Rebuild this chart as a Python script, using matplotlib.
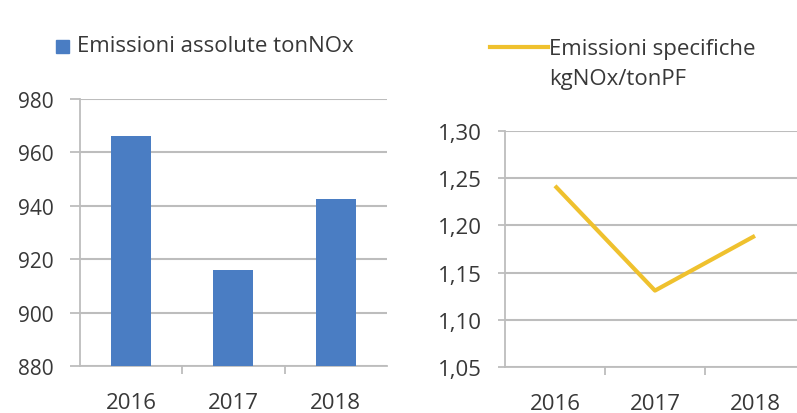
import numpy as np
import matplotlib
matplotlib.use('Agg')
import matplotlib.pyplot as plt
from matplotlib.lines import Line2D
from matplotlib.patches import Rectangle

plt.rcParams['font.family'] = ['Open Sans', 'DejaVu Sans']

years = ['2016', '2017', '2018']
abs_emissions = [966, 916, 942.5]          # tonNOx
spec_emissions = [1.242, 1.131, 1.189]     # kgNOx/tonPF

abs_ticks = [880, 900, 920, 940, 960, 980]
spec_ticks = [1.05, 1.10, 1.15, 1.20, 1.25, 1.30]

bar_color = '#4A7DC3'
line_color = '#EFC12E'
grid_color = '#BDBDBD'
text_color = '#383838'

fig = plt.figure(figsize=(7.97, 4.14), dpi=100, facecolor='white')

# left: bar chart
ax1 = fig.add_axes([0.1004, 0.1135, 0.385, 0.645])
x = np.arange(len(years))
ax1.bar(x, abs_emissions, width=0.39, color=bar_color, zorder=3)
ax1.set_ylim(880, 980)
ax1.set_xlim(-0.5, 2.5)
ax1.set_yticks(abs_ticks)
ax1.set_yticklabels([str(t) for t in abs_ticks])

# right: line chart
ax2 = fig.add_axes([0.6336, 0.111, 0.3764, 0.570])
ax2.plot(x, spec_emissions, color=line_color, linewidth=3, zorder=3,
         solid_capstyle='butt')
ax2.set_ylim(1.05, 1.30)
ax2.set_xlim(-0.5, 2.5)
ax2.set_yticks(spec_ticks)
ax2.set_yticklabels([f'{t:.2f}'.replace('.', ',') for t in spec_ticks])

for ax, ysize, ylen, ypad in ((ax1, 15, 7.2, 12), (ax2, 16, 5, 11.5)):
    ax.set_xticks(x)
    ax.set_xticklabels(years, fontsize=16, color=text_color)
    ax.set_xticks([0.5, 1.5], minor=True)
    ax.tick_params(axis='x', which='major', length=0, pad=19)
    ax.tick_params(axis='x', which='minor', length=6, color=grid_color, width=1.3)
    ax.tick_params(axis='y', length=ylen, color=grid_color, width=1.3,
                   labelsize=ysize, labelcolor=text_color, pad=ypad)
    ax.yaxis.grid(True, color=grid_color, linewidth=1.5, zorder=0)
    ax.set_axisbelow(True)
    for s in ('top', 'right'):
        ax.spines[s].set_visible(False)
    for s in ('left', 'bottom'):
        ax.spines[s].set_color(grid_color)
        ax.spines[s].set_linewidth(1.3)

# legends
fig.patches.append(Rectangle((56 / 797, 1 - 54 / 414), 13 / 797, 13 / 414,
                             transform=fig.transFigure, color=bar_color))
fig.text(77 / 797, 1 - 47 / 414, 'Emissioni assolute tonNOx', fontsize=16,
         color=text_color, va='center', ha='left')

fig.add_artist(Line2D([490 / 797, 548 / 797], [1 - 48 / 414, 1 - 48 / 414],
                      transform=fig.transFigure, color=line_color, linewidth=3))
fig.text(549 / 797, 1 - 49 / 414, 'Emissioni specifiche', fontsize=16,
         color=text_color, va='center', ha='left')
fig.text(549 / 797, 1 - 79 / 414, 'kgNOx/tonPF', fontsize=16,
         color=text_color, va='center', ha='left')

fig.savefig('out.png', dpi=100, facecolor='white')
